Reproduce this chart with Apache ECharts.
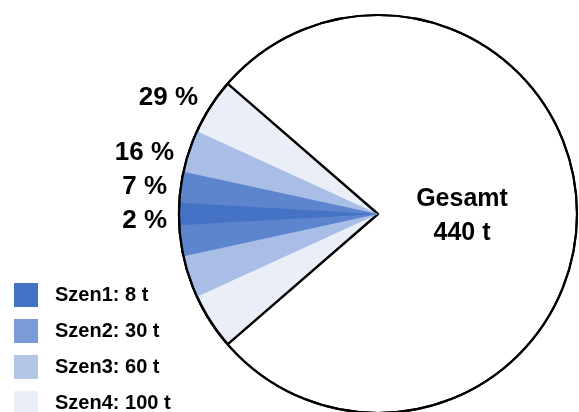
<!DOCTYPE html>
<html>
<head>
<meta charset="utf-8">
<script src="https://cdn.jsdelivr.net/npm/echarts@6/dist/echarts.min.js"></script>
<style>html,body{margin:0;padding:0;background:#fff}#c{width:579px;height:412px}</style>
</head>
<body>
<div id="c"></div>
<script>
// Data
const totalName = 'Gesamt';
const totalValue = 440;
const scenNames = ['Szen1', 'Szen2', 'Szen3', 'Szen4'];
const scenValues = [8, 30, 60, 100];
const pctLabels = ['2 %', '7 %', '16 %', '29 %'];
const wedgeColors = ['#4472C4', '#5d85cd', '#a9bee6', '#e9eef7'];
const legendColors = ['#4472C4', '#7b9bd8', '#b4c6e7', '#e9eef7'];

const FONT = 'Liberation Sans, Arial, sans-serif';
const center = [378, 214];
const radius = 199;

const itemNames = scenNames.map((n, i) => n + ': ' + scenValues[i] + ' t');

const series = [];
series.push({
  type: 'pie', center: center, radius: [0, radius], silent: true, animation: false,
  label: {show: false}, labelLine: {show: false}, startAngle: 0,
  data: [{name: totalName, value: totalValue, itemStyle: {color: '#ffffff', borderColor: '#000', borderWidth: 2}}]
});
for (let i = scenNames.length - 1; i >= 0; i--) {
  const v = scenValues[i];
  const half = v / totalValue * 180;
  series.push({
    type: 'pie', center: center, radius: [0, radius], silent: true, animation: false,
    startAngle: 180 + half, clockwise: true,
    label: {show: false}, labelLine: {show: false},
    data: [
      {name: itemNames[i], value: v, itemStyle: {color: wedgeColors[i],
        borderColor: i === scenNames.length - 1 ? '#000' : wedgeColors[i],
        borderWidth: i === scenNames.length - 1 ? 2.4 : 0}},
      {name: '_rest' + i, value: totalValue - v, itemStyle: {color: 'rgba(0,0,0,0)', borderWidth: 0}}
    ]
  });
}
// redraw outer circle outline on top
series.push({
  type: 'pie', center: center, radius: [radius, radius + 0.01], silent: true, animation: false,
  label: {show: false}, labelLine: {show: false},
  data: [{name: '_outline', value: totalValue, itemStyle: {color: 'rgba(0,0,0,0)', borderColor: '#000', borderWidth: 2.2}}]
});

const pctPos = [[167, 221], [167, 187], [174, 153], [198, 98]];
const graphics = pctLabels.map((t, i) => ({
  type: 'text', x: pctPos[i][0], y: pctPos[i][1], silent: true, z: 100,
  style: {text: t, font: 'bold 26px ' + FONT, fill: '#000', align: 'right', verticalAlign: 'middle'}
}));
graphics.push({
  type: 'text', x: 462, y: 216, silent: true, z: 100,
  style: {text: totalName + '\n' + totalValue + ' t', font: 'bold 25px ' + FONT, fill: '#000',
    align: 'center', verticalAlign: 'middle', lineHeight: 34}
});

const chart = echarts.init(document.getElementById('c'), null, {renderer: 'canvas'});
chart.setOption({
  animation: false,
  legend: {
    orient: 'vertical', left: 14, top: 283, height: 200, padding: 0,
    itemWidth: 24, itemHeight: 24, itemGap: 12,
    icon: 'rect', selectedMode: false,
    data: itemNames.map((n, i) => ({name: n, itemStyle: {color: legendColors[i], borderWidth: 0}})),
    textStyle: {fontFamily: FONT, fontWeight: 'bold', fontSize: 20, color: '#000', padding: [0, 0, 0, 12]}
  },
  series: series,
  graphic: graphics
});
</script>
</body>
</html>
